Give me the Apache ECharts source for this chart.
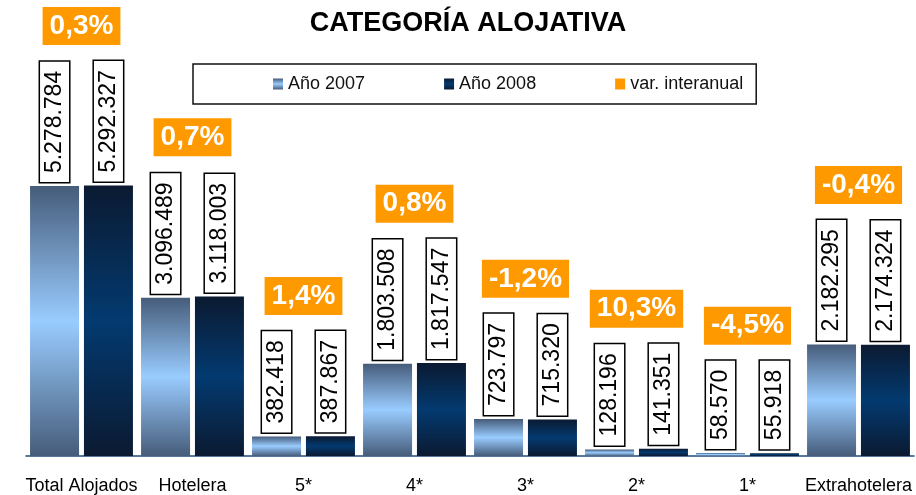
<!DOCTYPE html>
<html>
<head>
<meta charset="utf-8">
<script src="https://cdn.jsdelivr.net/npm/echarts@6/dist/echarts.min.js"></script>
<style>
  html, body { margin: 0; padding: 0; background: #fff; }
  #chart { width: 916px; height: 495px; }
</style>
</head>
<body>
<div id="chart"></div>
<script>
// datos
var categories = ['Total Alojados', 'Hotelera', '5*', '4*', '3*', '2*', '1*', 'Extrahotelera'];
var y2007 = [5278784, 3096489, 382418, 1803508, 723797, 128196, 58570, 2182295];
var y2008 = [5292327, 3118003, 387867, 1817547, 715320, 141351, 55918, 2174324];
var varInteranual = [0.3, 0.7, 1.4, 0.8, -1.2, 10.3, -4.5, -0.4];

var FONT = '"Liberation Sans", Arial, sans-serif';

const fmtNum = (n) => String(n).replace(/\B(?=(\d{3})+(?!\d))/g, '.');
const fmtPct = (p) => p.toFixed(1).replace('.', ',') + '%';

// largo de las etiquetas giradas, para colocar la variación encima
var ctx = document.createElement('canvas').getContext('2d');
ctx.font = '23px ' + FONT;
var labelLen = categories.map((c, i) => {
  var a = ctx.measureText(fmtNum(y2007[i])).width;
  var b = ctx.measureText(fmtNum(y2008[i])).width;
  return Math.max(a, b) + 18;
});

const grad = (edge, mid) => new echarts.graphic.LinearGradient(0, 0, 0, 1, [
  { offset: 0, color: edge },
  { offset: 0.5, color: mid },
  { offset: 1, color: edge }
]);

var valueLabel = {
  show: true,
  position: 'top',
  distance: 4,
  rotate: 90,
  align: 'left',
  verticalAlign: 'middle',
  fontSize: 23,
  fontFamily: FONT,
  color: '#000',
  backgroundColor: '#fff',
  borderColor: '#000',
  borderWidth: 1.5,
  padding: [3, 9],
  formatter: (p) => fmtNum(p.value)
};

var myChart = echarts.init(document.getElementById('chart'));
var option = {
  animation: false,
  title: {
    text: 'CATEGORÍA ALOJATIVA',
    left: 463,
    textAlign: 'center',
    top: 5,
    textStyle: { fontSize: 27, fontWeight: 'bold', fontFamily: FONT, color: '#000' }
  },
  legend: {
    left: 193,
    top: 64,
    icon: 'rect',
    itemWidth: 10,
    itemHeight: 11,
    itemGap: 79,
    padding: [11, 13, 11, 80],
    backgroundColor: '#fff',
    borderColor: '#111',
    borderWidth: 1.5,
    textStyle: { fontSize: 18, fontFamily: FONT, color: '#111' },
    data: ['Año 2007', 'Año 2008', 'var. interanual']
  },
  grid: { left: 26, right: 2, top: 47, bottom: 39 },
  xAxis: {
    type: 'category',
    data: categories,
    axisLine: { lineStyle: { color: '#1f4e79', width: 1.5 } },
    axisTick: { length: 7, lineStyle: { color: '#1f4e79', width: 1.5 } },
    axisLabel: { interval: 0, margin: 21, fontSize: 18, fontFamily: FONT, color: '#000' }
  },
  yAxis: {
    type: 'value',
    min: 0,
    max: 8000000,
    show: false,
    splitLine: { show: false }
  },
  series: [
    {
      name: 'Año 2007',
      type: 'bar',
      barWidth: 49,
      barGap: '10%',
      itemStyle: { color: grad('#465c7a', '#99ccff') },
      label: valueLabel,
      data: y2007
    },
    {
      name: 'Año 2008',
      type: 'bar',
      barWidth: 49,
      barGap: '10%',
      itemStyle: { color: grad('#0b1a31', '#033a70') },
      label: valueLabel,
      data: y2008
    },
    {
      name: 'var. interanual',
      type: 'custom',
      itemStyle: { color: '#ff9900' },
      encode: { x: 0, y: 1 },
      data: categories.map((c, i) => [i, Math.max(y2007[i], y2008[i]), varInteranual[i]]),
      renderItem(params, api) {
        var i = api.value(0);
        var pt = api.coord([i, api.value(1)]);
        return {
          type: 'text',
          x: pt[0],
          y: pt[1] - 4 - labelLen[i] - 16 - 19,
          style: {
            text: fmtPct(api.value(2)),
            font: 'bold 28px ' + FONT,
            fill: '#fff',
            backgroundColor: '#ff9900',
            padding: [5, 7],
            align: 'center',
            verticalAlign: 'middle'
          }
        };
      }
    }
  ]
};
myChart.setOption(option);
</script>
</body>
</html>
